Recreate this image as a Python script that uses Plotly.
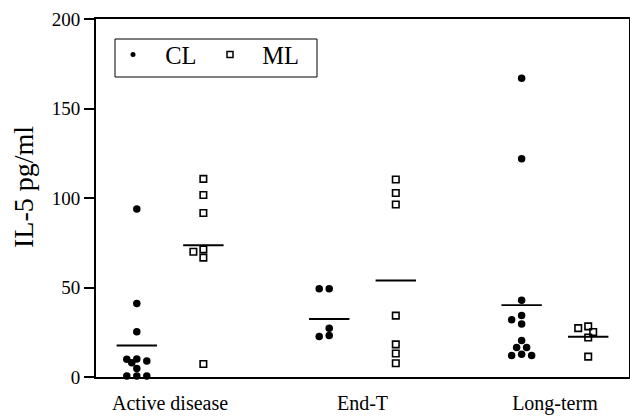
import plotly.graph_objects as go
import math

# ---------------- data ----------------
categories = ["Active disease", "End-T", "Long-term"]
cl_active = [93.8, 41.0, 25.3, 10.0, 9.9, 9.0, 8.0, 4.7, 0.5, 0.5, 0.5]
cl_endt = [49.3, 49.3, 27.3, 23.2, 22.6]
cl_long = [166.9, 121.9, 42.9, 34.4, 32.0, 29.6, 20.4, 16.5, 16.5, 12.7, 12.0, 12.0]
ml_active = [110.7, 101.7, 91.6, 71.3, 70.0, 66.7, 7.3]
ml_endt = [110.3, 102.8, 96.4, 34.3, 18.2, 13.1, 7.7]
ml_long = [28.3, 27.3, 25.1, 22.1, 11.4]
cl_means = [17.6, 32.4, 40.1]
ml_means = [73.6, 53.9, 22.5]
y_ticks = [0, 50, 100, 150, 200]

# ---------------- layout constants ----------------
W, H = 630, 417
ML_, MR_, MT_, MB_ = 96, 1, 19, 40
PW, PH = W - ML_ - MR_, H - MT_ - MB_
XR = [-0.385, 2.385]
YR = [0, 200]
PX_X = PW / (XR[1] - XR[0])
PX_Y = PH / (YR[1] - YR[0])
GROUP_OFF = 0.173
HALF_LINE = 0.105
FONT = "Liberation Serif"


def px2paper_x(px):
    return (px - ML_) / PW


def px2paper_y(py):
    return (H - MB_ - py) / PH


def swarm(values, center, step_px=10.0, dmin=7.0, maxcol=1.0):
    """Simple beeswarm: spread near-equal values sideways."""
    cands = [0.0]
    k = 0.5
    while k <= maxcol + 1e-9:
        cands += [-k, k]
        k += 0.5
    placed = []
    xs = []
    for v in values:
        best, bestd = None, -1
        for c in cands:
            dm = min([math.hypot((c - pc) * step_px, (v - pv) * PX_Y) for pc, pv in placed] or [1e9])
            if dm >= dmin:
                best = c
                break
            if dm > bestd:
                bestd, best = dm, c
        placed.append((best, v))
        xs.append(center + best * step_px / PX_X)
    return xs


fig = go.Figure()

cl_groups = [cl_active, cl_endt, cl_long]
ml_groups = [ml_active, ml_endt, ml_long]

cl_x, cl_y, ml_x, ml_y = [], [], [], []
for i, (cg, mg) in enumerate(zip(cl_groups, ml_groups)):
    cl_x += swarm(cg, i - GROUP_OFF)
    cl_y += cg
    ml_x += swarm(mg, i + GROUP_OFF)
    ml_y += mg

fig.add_trace(go.Scatter(
    x=cl_x, y=cl_y, mode="markers", showlegend=False, cliponaxis=False,
    marker=dict(symbol="circle", size=7.5, color="black", line=dict(width=0)),
))
fig.add_trace(go.Scatter(
    x=ml_x, y=ml_y, mode="markers", showlegend=False, cliponaxis=False,
    marker=dict(symbol="square-open", size=6.5, color="black", line=dict(width=1.6, color="black")),
))

# mean lines
mx, my = [], []
for i, (a, b) in enumerate(zip(cl_means, ml_means)):
    for c, m in ((i - GROUP_OFF, a), (i + GROUP_OFF, b)):
        mx += [c - HALF_LINE, c + HALF_LINE, None]
        my += [m, m, None]
fig.add_trace(go.Scatter(x=mx, y=my, mode="lines", showlegend=False,
                         line=dict(color="black", width=1.8), hoverinfo="skip"))

# legend-only entries (smaller symbols, as in the reference)
fig.add_trace(go.Scatter(x=[None], y=[None], mode="markers", name="\u00a0\u00a0CL",
                         marker=dict(symbol="circle", size=5, color="black")))
fig.add_trace(go.Scatter(x=[None], y=[None], mode="markers", name="\u00a0\u00a0ML",
                         marker=dict(symbol="square-open", size=6, color="black",
                                     line=dict(width=1.5, color="black"))))

fig.update_layout(
    width=W, height=H,
    margin=dict(l=ML_, r=MR_, t=MT_, b=MB_, autoexpand=False),
    paper_bgcolor="white", plot_bgcolor="white",
    font=dict(family=FONT, color="black"),
    showlegend=True,
    legend=dict(
        orientation="h", x=px2paper_x(113), y=px2paper_y(32),
        xanchor="left", yanchor="top",
        borderwidth=0, bgcolor="rgba(0,0,0,0)",
        font=dict(family=FONT, size=24.5, color="black"),
        entrywidth=52,
    ),
    shapes=[dict(
        type="rect", xref="paper", yref="paper",
        x0=px2paper_x(115), x1=px2paper_x(317), y0=px2paper_y(77), y1=px2paper_y(39),
        line=dict(color="black", width=1), fillcolor="rgba(0,0,0,0)", layer="above",
    )],
    annotations=[dict(
        text="IL-5 pg/ml", textangle=-90, showarrow=False,
        xref="paper", yref="paper", x=px2paper_x(24), y=px2paper_y(187),
        xanchor="center", yanchor="middle",
        font=dict(family=FONT, size=28, color="black"),
    )],
    xaxis=dict(
        range=XR, tickmode="array", tickvals=[0, 1, 2], ticktext=categories,
        showline=True, linecolor="black", linewidth=2, mirror=True,
        ticks="", showgrid=False, zeroline=False, automargin=False,
        tickfont=dict(family=FONT, size=20, color="black"),
        ticklabelstandoff=7,
    ),
    yaxis=dict(
        range=YR, tickmode="array", tickvals=y_ticks,
        showline=True, linecolor="black", linewidth=2, mirror=True,
        ticks="outside", ticklen=10, tickwidth=1.5, tickcolor="black",
        showgrid=False, zeroline=False, automargin=False,
        tickfont=dict(family=FONT, size=19, color="black"),
    ),
)

fig.write_html("out.html", config={"displayModeBar": False},
               post_script="document.body.style.margin='0';")
